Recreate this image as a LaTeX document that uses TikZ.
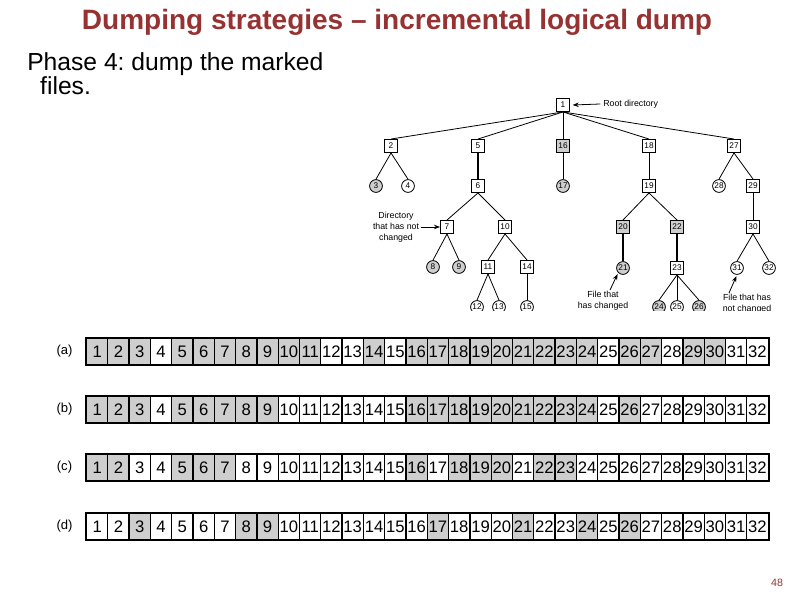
\documentclass[tikz,border=0pt]{standalone}
\usepackage{fontspec}
\setmainfont{Liberation Sans}
\frenchspacing
\usetikzlibrary{arrows.meta, positioning}
\definecolor{cTitle}{RGB}{150,50,50}
\definecolor{cMark}{RGB}{206,206,206}
\tikzset{
	titletext/.style={font=\fontsize{21}{24}\selectfont\bfseries, text=cTitle, inner sep=0pt},
	bodytext/.style ={font=\fontsize{18.5}{16.5}\selectfont, align=left, inner sep=0pt},
	% tree of directories and files
	dirbox/.style   ={rectangle, draw=black, line width=0.65pt, minimum size=9.8pt, inner sep=0pt, fill=white, font=\fontsize{6.2}{6.2}\selectfont},
	filenode/.style ={circle, draw=black, line width=0.65pt, minimum size=9.6pt, inner sep=0pt, fill=white, font=\fontsize{6.2}{6.2}\selectfont},
	marked/.style   ={fill=cMark},
	edge/.style     ={line width=0.6pt},
	heavyedge/.style={line width=1.1pt},
	note/.style     ={font=\fontsize{6.6}{8.2}\selectfont, align=center, inner sep=0pt},
	pointer/.style  ={-{Stealth[length=1.6mm, width=1.2mm]}, line width=0.6pt},
	% bitmaps
	bitcell/.style  ={rectangle, draw=black, line width=0.9pt, minimum width=15.97pt, minimum height=20.25pt, inner sep=0pt, font=\fontsize{12.5}{12.5}\selectfont},
	rowlabel/.style ={font=\fontsize{9.8}{10}\selectfont, inner sep=0pt},
}

\begin{document}
\begin{tikzpicture}[x=0.75pt, y=-0.75pt]
	\useasboundingbox (0,0) rectangle (794,595);
	% heading
	\node[titletext] (title) at (397,22) {Dumping strategies – incremental logical dump};
	\node[bodytext, anchor=north west] (phase) at (27,52) {Phase 4: dump the marked\\\hspace*{9.7pt}files.};
	% tree
	\begin{scope}
		\clip (360,90) rectangle (794,311);
		\node[dirbox] (n1) at (563,105) {1};
		\node[dirbox] (n2) at (391,146) {2};
		\node[dirbox] (n5) at (478,146) {5};
		\node[dirbox, marked] (n16) at (563,146) {16};
		\node[dirbox] (n18) at (649,146) {18};
		\node[dirbox] (n27) at (734,146) {27};
		\node[filenode, marked] (n3) at (376,186) {3};
		\node[filenode] (n4) at (408,186) {4};
		\node[dirbox] (n6) at (478,186) {6};
		\node[filenode, marked] (n17) at (563,186) {17};
		\node[dirbox] (n19) at (649,186) {19};
		\node[filenode] (n28) at (719,186) {28};
		\node[dirbox] (n29) at (753,186) {29};
		\node[dirbox] (n7) at (447,227) {7};
		\node[dirbox] (n10) at (505,227) {10};
		\node[dirbox, marked] (n20) at (623,227) {20};
		\node[dirbox, marked] (n22) at (677,227) {22};
		\node[dirbox] (n30) at (753,227) {30};
		\node[filenode, marked] (n8) at (433,267) {8};
		\node[filenode, marked] (n9) at (459,267) {9};
		\node[dirbox] (n11) at (488,267) {11};
		\node[dirbox] (n14) at (527,267) {14};
		\node[filenode, marked] (n21) at (623,268) {21};
		\node[dirbox] (n23) at (677,268) {23};
		\node[filenode] (n31) at (737,268) {31};
		\node[filenode] (n32) at (769,268) {32};
		\node[filenode] (n12) at (477,307) {12};
		\node[filenode] (n13) at (499,307) {13};
		\node[filenode] (n15) at (527,307) {15};
		\node[filenode, marked] (n24) at (659,307) {24};
		\node[filenode] (n25) at (677,307) {25};
		\node[filenode, marked] (n26) at (699,307) {26};
		\foreach \p/\c in {1/2, 1/5, 1/16, 1/18, 1/27, 2/3, 2/4, 6/7, 6/10, 7/8, 7/9, 10/11, 10/14,
			11/12, 11/13, 14/15, 16/17, 18/19, 19/20, 19/22, 23/24, 23/25, 23/26, 27/28, 27/29, 29/30, 30/31, 30/32}
			\draw[edge] (n\p.south) -- (n\c.north);
		\foreach \p/\c in {5/6, 20/21, 22/23}
			\draw[heavyedge] (n\p.south) -- (n\c.north);
		% callouts
		\node[note, anchor=west] (rootlbl) at (603,104) {Root directory};
		\draw[pointer] ([xshift=-2pt]rootlbl.west) -- ([xshift=2pt]n1.east);
		\node[note] (dirlbl) at (396,227) {Directory\\that has not\\changed};
		\draw[pointer] ([xshift=1pt]dirlbl.east) -- (n7.west);
		\node[note] (chglbl) at (603,301) {File that\\has changed};
		\coordinate (chgtail) at (610,290);
		\draw[pointer, shorten >=1pt] (chgtail) -- (n21.south west);
		\node[note] (unchlbl) at (747,304) {File that has\\not changed};
		\coordinate (unchtail) at (729,293);
		\draw[pointer, shorten >=1pt] (unchtail) -- (n31.south);
	\end{scope}
	% bitmaps (a)-(d)
	\foreach \r/\y/\marks in {
		a/351.5/{1,2,3,5,6,7,8,9,10,11,14,16,17,18,19,20,21,22,23,24,26,27,29,30},
		b/409.5/{1,2,3,5,6,7,8,9,16,17,18,19,20,21,22,23,24,26},
		c/467.5/{1,2,5,6,7,16,18,19,20,22,23},
		d/526.5/{3,8,9,17,21,24,26}} {
		\foreach \m in \marks
			\fill[cMark] ({86.5+(\m-1)*21.3},\y-13.5) rectangle ++(21.3,27);
		\foreach \i in {1,...,32}
			\node[bitcell] (\r\i) at ({86.5+(\i-0.5)*21.3},\y) {\i};
		\draw[line width=1.3pt] (\r1.north west) rectangle (\r32.south east);
		\node[rowlabel] (lbl\r) at (64.5,\y) {(\r)};
	}
	% page number
	\node[font=\fontsize{8}{8}\selectfont, text=cTitle, inner sep=0pt] (pageno) at (777,583) {48};
\end{tikzpicture}
\end{document}
